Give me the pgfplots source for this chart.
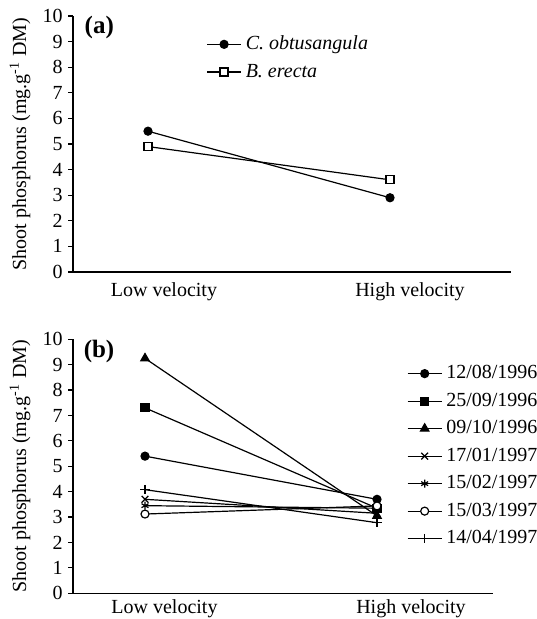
\documentclass[border=0pt]{standalone}
\usepackage{pgfplots}
\pgfplotsset{compat=1.18}
\usepackage{fontspec}
\setmainfont{Liberation Serif}

\pgfplotsset{
  panel/.style={
    scale only axis,
    anchor=south west,
    axis lines=left,
    axis line style={-, line width=0.6pt},
    ymin=0, ymax=10,
    ytick={0,1,...,10},
    tick align=outside,
    ytick style={line width=0.6pt, black},
    major tick length=2.5pt,
    xtick style={draw=none},
    /pgf/number format/assume math mode=true,
    tick label style={font=\fontsize{10}{12}\selectfont},
    yticklabel style={inner sep=1pt, xshift=-1.5pt},
    label style={font=\fontsize{10}{12}\selectfont},
    ylabel={Shoot phosphorus (mg.g\textsuperscript{-1} DM)},
    legend cell align=left,
    legend style={draw=none, fill=none, font=\fontsize{10}{12}\selectfont,
      row sep=1.6pt},
    every axis plot/.append style={black, line width=0.6pt, mark size=2pt},
  }
}

\begin{document}
\begin{tikzpicture}
\path[use as bounding box] (0,0) rectangle (268pt,309.5pt);

% (a)
\begin{axis}[panel,
  at={(36.5pt,173.5pt)},
  width=219pt, height=128pt,
  xmin=73, xmax=511,
  xtick={164,410},
  xticklabels={Low velocity, High velocity},
  xticklabel style={yshift=0.8pt},
  ylabel style={at={(axis description cs:-0.121,0.5)}, anchor=center},
  legend style={at={(axis description cs:0.29,0.955)}, anchor=north west,
    font=\fontsize{10}{12}\selectfont\itshape},
  ]
  \addplot[mark=*, mark options={fill=black}] coordinates {(148,5.5) (390,2.9)};
  \addlegendentry{C. obtusangula}
  \addplot[mark=square*, mark options={fill=white}] coordinates {(148,4.9) (390,3.6)};
  \addlegendentry{B. erecta}
  \node[font=\fontsize{12.5}{14}\selectfont\bfseries] at (axis description cs:0.06,0.955) {(a)};
\end{axis}

% (b)
\begin{axis}[panel,
  at={(36.5pt,12.85pt)},
  width=210pt, height=127pt,
  xmin=73, xmax=493,
  xtick={164.5,411},
  xticklabels={Low velocity, High velocity},
  xticklabel style={yshift=2.8pt},
  ylabel style={at={(axis description cs:-0.126,0.5)}, anchor=center},
  legend style={at={(axis description cs:0.78,0.93)}, anchor=north west},
  ]
  \addplot[mark=*, mark options={fill=black}] coordinates {(145,5.4) (377,3.7)};
  \addlegendentry{12/08/1996}
  \addplot[mark=square*, mark options={fill=black}] coordinates {(145,7.3) (377,3.35)};
  \addlegendentry{25/09/1996}
  \addplot[mark=triangle*, mark options={fill=black}, mark size=2.4pt] coordinates {(145,9.25) (377,3.05)};
  \addlegendentry{09/10/1996}
  \addplot[mark=x, mark size=2.4pt] coordinates {(145,3.7) (377,3.15)};
  \addlegendentry{17/01/1997}
  \addplot[mark=asterisk] coordinates {(145,3.45) (377,3.35)};
  \addlegendentry{15/02/1997}
  \addplot[mark=*, mark options={fill=white}] coordinates {(145,3.12) (377,3.44)};
  \addlegendentry{15/03/1997}
  \addplot[mark=+, mark size=2.4pt] coordinates {(145,4.08) (377,2.78)};
  \addlegendentry{14/04/1997}
  \node[font=\fontsize{12.5}{14}\selectfont\bfseries] at (axis description cs:0.062,0.952) {(b)};
\end{axis}
\end{tikzpicture}
\end{document}
